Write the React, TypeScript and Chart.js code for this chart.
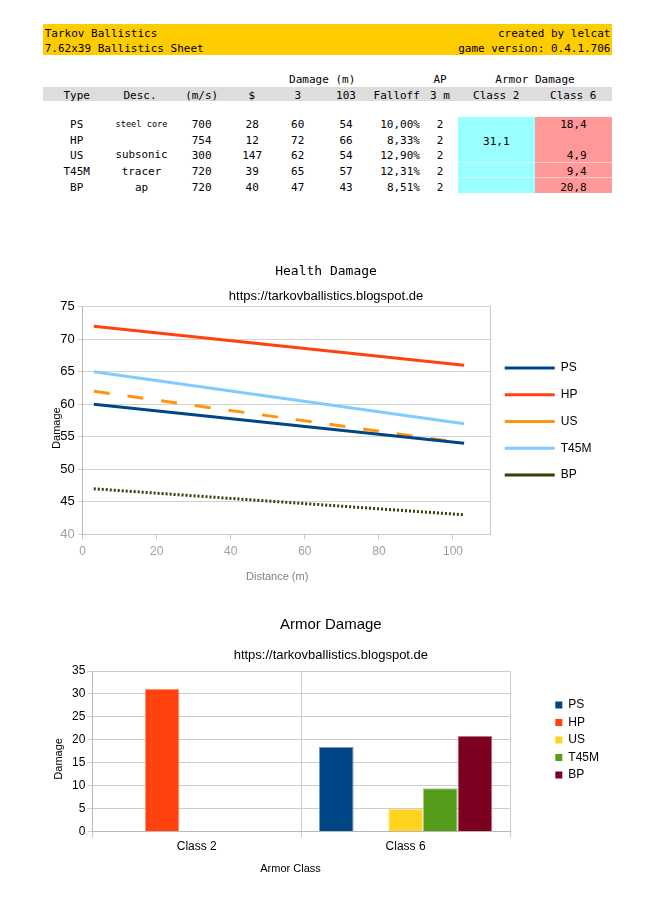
import React, { useEffect, useRef } from 'react';
import { Chart, registerables } from 'chart.js';

Chart.register(...registerables);

// ---------- data ----------
const ammoTypes = ['PS', 'HP', 'US', 'T45M', 'BP'];
const ammoDescs = ['steel core', '', 'subsonic', 'tracer', 'ap'];
const muzzleSpeeds = [700, 754, 300, 720, 720];
const prices = [28, 12, 147, 39, 40];
const damageAt3m = [60, 72, 62, 65, 47];
const damageAt103m = [54, 66, 54, 57, 43];
const falloffLabels = ['10,00%', '8,33%', '12,90%', '12,31%', '8,51%'];
const armorPen3m = [2, 2, 2, 2, 2];
const armorClass2 = [null, 31.1, null, null, null];
const armorClass6 = [18.4, null, 4.9, 9.4, 20.8];
const distances = [3, 103];
const armorClasses = ['Class 2', 'Class 6'];

const lineColors = ['#004586', '#ff420e', '#ff950e', '#83caff', '#314004'];
const lineDashes: number[][] = [[], [], [16, 18], [], [2, 2]];
const barColors = ['#004586', '#ff420e', '#ffd320', '#579d1c', '#7e0021'];

const SANS = "'Liberation Sans', Arial, sans-serif";
const MONO = "'DejaVu Sans Mono', monospace";

function lighten(hex: string, amt: number) {
  const n = parseInt(hex.slice(1), 16);
  const r = (n >> 16) & 255, g = (n >> 8) & 255, b = n & 255;
  const m = (c: number) => Math.round(c + (255 - c) * amt);
  return `rgb(${m(r)},${m(g)},${m(b)})`;
}

const fmt = (v: number | null) => (v == null ? '' : v.toFixed(1).replace('.', ','));

function Txt({ x, y, text, align = 'center', size = 11 }: { x: number; y: number; text: string; align?: string; size?: number }) {
  const tx = align === 'center' ? '-50%' : align === 'right' ? '-100%' : '0';
  return (
    <div
      style={{
        position: 'absolute',
        left: x,
        top: y + 1,
        transform: `translate(${tx}, -50%)`,
        fontSize: size,
        lineHeight: '1',
        whiteSpace: 'pre',
        fontFamily: MONO,
        color: '#000',
      }}
    >
      {text}
    </div>
  );
}

const rowY = [123.3, 139.3, 154.3, 170, 185.7];

export default function App() {
  const lineRef = useRef<HTMLCanvasElement>(null);
  const barRef = useRef<HTMLCanvasElement>(null);

  useEffect(() => {
    Chart.defaults.font.family = SANS;
    Chart.defaults.color = '#000';

    const lineChart = new Chart(lineRef.current as HTMLCanvasElement, {
      type: 'line',
      data: {
        datasets: ammoTypes.map((name, i) => ({
          label: name,
          data: distances.map((d, j) => ({ x: d, y: j === 0 ? damageAt3m[i] : damageAt103m[i] })),
          borderColor: lineColors[i],
          backgroundColor: lineColors[i],
          borderWidth: 3,
          borderDash: lineDashes[i],
          pointRadius: 0,
          tension: 0,
          fill: false,
        })),
      },
      options: {
        animation: false,
        responsive: false,
        layout: { padding: { left: 50.7, right: 54.6, top: 0, bottom: 0 } },
        plugins: {
          title: {
            display: true,
            text: 'Health Damage',
            font: { family: MONO, size: 13, weight: 'normal' },
            color: '#000',
            padding: { top: 13.8, bottom: 0 },
          },
          subtitle: {
            display: true,
            text: 'https://tarkovballistics.blogspot.de',
            font: { size: 13 },
            color: '#000',
            padding: { top: 9.4, bottom: 2.3 },
          },
          legend: {
            position: 'right',
            maxWidth: 200,
            labels: {
              usePointStyle: true,
              pointStyle: 'line',
              pointStyleWidth: 50,
              font: { size: 12 },
              color: '#000',
              padding: 14.7,
            },
          },
          tooltip: { enabled: false },
        },
        scales: {
          x: {
            type: 'linear',
            min: 0,
            max: 110,
            ticks: { stepSize: 20, includeBounds: false, color: '#a0a0a0', font: { size: 12 }, padding: 5.2 },
            grid: { drawOnChartArea: false, tickLength: 5, color: '#c8c8c8' },
            border: { color: '#c8c8c8' },
            title: {
              display: true,
              text: 'Distance (m)      ',
              color: '#808080',
              font: { size: 11 },
              padding: { top: 6.3, bottom: 9.4 },
            },
          },
          y: {
            type: 'linear',
            min: 40,
            max: 75,
            ticks: {
              stepSize: 5,
              font: { size: 13 },
              padding: 3,
              color: (ctx: any) => (ctx.tick && ctx.tick.value === 40 ? '#a0a0a0' : '#000'),
            },
            grid: { color: '#d2d2d2', tickLength: 5 },
            border: { color: '#b8b8b8' },
            title: {
              display: true,
              text: 'Damage     ',
              color: '#000',
              font: { size: 11 },
              padding: { top: 0, bottom: -6.7 },
            },
          },
          yRight: {
            type: 'linear',
            position: 'right',
            min: 0,
            max: 1,
            display: true,
            ticks: { display: false },
            grid: { display: false, drawTicks: false },
            border: { display: true, color: '#c8c8c8' },
          },
        },
      } as any,
    });

    const barChart = new Chart(barRef.current as HTMLCanvasElement, {
      type: 'bar',
      data: {
        labels: armorClasses,
        datasets: ammoTypes.map((name, i) => ({
          label: name,
          data: [armorClass2[i], armorClass6[i]],
          backgroundColor: barColors[i],
          borderColor: lighten(barColors[i], 0.45),
          borderWidth: 1,
          yAxisID: 'y',
          categoryPercentage: 0.83,
          barPercentage: 1,
        })),
      },
      options: {
        animation: false,
        responsive: false,
        layout: { padding: { left: 52.7, right: 47, top: 0, bottom: 0 } },
        plugins: {
          title: {
            display: true,
            text: 'Armor Damage',
            font: { size: 15, weight: 'normal' },
            color: '#000',
            padding: { top: 16, bottom: 0 },
          },
          subtitle: {
            display: true,
            text: 'https://tarkovballistics.blogspot.de',
            font: { size: 13 },
            color: '#000',
            padding: { top: 14, bottom: 7.4 },
          },
          legend: {
            position: 'right',
            maxWidth: 200,
            labels: {
              boxWidth: 7,
              boxHeight: 7,
              font: { size: 12 },
              color: '#000',
              padding: 5.5,
              generateLabels: (chart: any) =>
                (Chart.defaults.plugins.legend.labels as any)
                  .generateLabels(chart)
                  .map((l: any) => ({ ...l, lineWidth: 0 })),
            },
          },
          tooltip: { enabled: false },
        },
        scales: {
          x: {
            type: 'category',
            offset: true,
            ticks: { font: { size: 12 }, color: '#000', padding: 2 },
            grid: { offset: true, tickLength: 6, color: '#cccccc' },
            border: { color: '#b8b8b8' },
            title: {
              display: true,
              text: 'Armor Class       ',
              color: '#000',
              font: { size: 11 },
              padding: { top: 7, bottom: 4 },
            },
          },
          y: {
            type: 'linear',
            min: 0,
            max: 35,
            ticks: { stepSize: 5, font: { size: 12 }, color: '#000', padding: 2 },
            grid: { color: '#cccccc', tickLength: 5 },
            border: { color: '#b8b8b8' },
            title: {
              display: true,
              text: 'Damage     ',
              color: '#000',
              font: { size: 11 },
              padding: { top: 0, bottom: 4.1 },
            },
          },
          yRight: {
            type: 'linear',
            position: 'right',
            min: 0,
            max: 1,
            display: true,
            ticks: { display: false },
            grid: { display: false, drawTicks: false },
            border: { display: false },
            title: { display: true, text: ' ', font: { size: 12 }, padding: { top: 0, bottom: 25.4 } },
          },
        },
      } as any,
    });

    return () => {
      lineChart.destroy();
      barChart.destroy();
    };
  }, []);

  const descSize = (t: string) => Math.min(11, 52 / (0.602 * Math.max(1, t.length)));

  return (
    <div
      style={{
        position: 'absolute',
        left: 0,
        top: 0,
        width: 656,
        height: 901,
        background: '#fff',
        overflow: 'hidden',
      }}
    >
      {/* banner */}
      <div style={{ position: 'absolute', left: 42.7, top: 24, width: 569.3, height: 30.5, background: '#ffcc00' }} />
      <Txt x={44.7} y={31.7} text="Tarkov Ballistics" align="left" />
      <Txt x={44.7} y={46.7} text="7.62x39 Ballistics Sheet" align="left" />
      <Txt x={610.5} y={31.7} text="created by lelcat" align="right" />
      <Txt x={610.5} y={46.7} text="game version: 0.4.1.706" align="right" />

      {/* header */}
      <Txt x={322.2} y={78.3} text="Damage (m)" />
      <Txt x={440} y={78.3} text="AP" />
      <Txt x={535} y={78.3} text="Armor Damage" />
      <div style={{ position: 'absolute', left: 42.7, top: 86.7, width: 569.3, height: 14, background: '#dddddd' }} />
      <Txt x={76.7} y={93.5} text="Type" />
      <Txt x={140} y={93.5} text="Desc." />
      <Txt x={201.7} y={93.5} text="(m/s)" />
      <Txt x={251.7} y={93.5} text="$" />
      <Txt x={297.7} y={93.5} text="3" />
      <Txt x={346} y={93.5} text="103" />
      <Txt x={396.7} y={93.5} text="Falloff" />
      <Txt x={440} y={93.5} text="3 m" />
      <Txt x={496.3} y={93.5} text="Class 2" />
      <Txt x={573.3} y={93.5} text="Class 6" />

      {/* armor damage cells */}
      <div style={{ position: 'absolute', left: 458.3, top: 116.7, width: 76.7, height: 76.3, background: '#99ffff' }} />
      <div style={{ position: 'absolute', left: 535, top: 116.7, width: 76.7, height: 76.3, background: '#ff9999' }} />
      <div style={{ position: 'absolute', left: 458.3, top: 162, width: 153.4, height: 1, background: 'rgba(255,255,255,0.45)' }} />
      <div style={{ position: 'absolute', left: 458.3, top: 177, width: 153.4, height: 1, background: 'rgba(255,255,255,0.45)' }} />

      {ammoTypes.map((t, i) => (
        <React.Fragment key={t}>
          <Txt x={76.7} y={rowY[i]} text={t} />
          <Txt x={141.5} y={rowY[i]} text={ammoDescs[i]} size={descSize(ammoDescs[i])} />
          <Txt x={201.7} y={rowY[i]} text={String(muzzleSpeeds[i])} />
          <Txt x={252.2} y={rowY[i]} text={String(prices[i])} />
          <Txt x={297.7} y={rowY[i]} text={String(damageAt3m[i])} />
          <Txt x={346} y={rowY[i]} text={String(damageAt103m[i])} />
          <Txt x={420} y={rowY[i]} text={falloffLabels[i]} align="right" />
          <Txt x={440} y={rowY[i]} text={String(armorPen3m[i])} />
          <Txt x={586.7} y={rowY[i]} text={fmt(armorClass6[i])} align="right" />
        </React.Fragment>
      ))}
      <Txt x={496.3} y={139.5} text={fmt(armorClass2.find((v) => v != null) ?? null)} />

      <canvas ref={lineRef} width={656} height={343} style={{ position: 'absolute', left: 0, top: 250, width: 656, height: 343 }} />
      <canvas ref={barRef} width={656} height={280} style={{ position: 'absolute', left: 0, top: 600, width: 656, height: 280 }} />
    </div>
  );
}
